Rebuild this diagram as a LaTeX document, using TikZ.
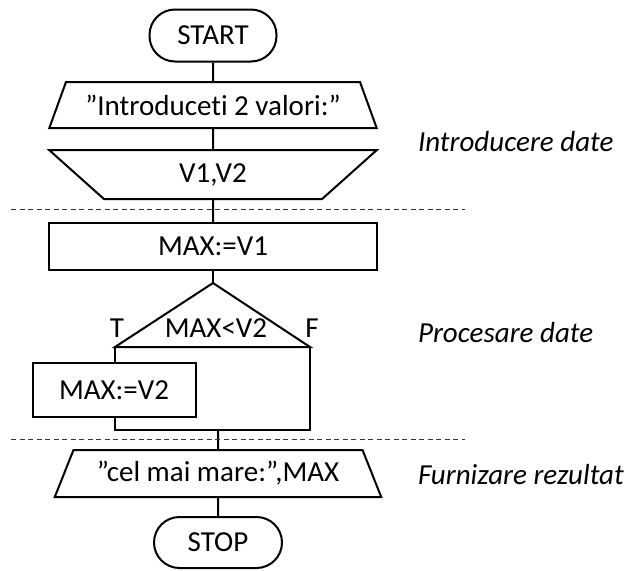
\documentclass[tikz,border=0pt]{standalone}
\usepackage{fontspec}
\setmainfont[Ligatures={NoCommon}]{Carlito}
\usetikzlibrary{shapes.geometric}
\begin{document}
\begin{tikzpicture}[x=1pt, y=-1pt, line width=2pt,
  every node/.style={font=\fontsize{29}{35}\selectfont, inner sep=0pt},
  term/.style={draw, rounded corners=25.5pt, minimum width=127pt, minimum height=52pt},
  iobox/.style={draw, trapezium, trapezium stretches=true, minimum width=328pt},
  procbox/.style={draw, rectangle},
  note/.style={font=\fontsize{29}{35}\selectfont\itshape, anchor=west},
  sep/.style={line width=1pt, black!80, dash pattern=on 5pt off 3.5pt}]
\useasboundingbox (0,0) rectangle (631,570);

% blocks
\node[term] (start) at (213,35.5) {START};
\node[iobox, minimum height=46pt, trapezium angle=55] (in1) at (213,105) {"Introduceti 2 valori:"};
\node[iobox, minimum height=49pt, trapezium angle=53, shape border rotate=180] (in2) at (213,174.5) {V1,V2};
\node[procbox, minimum width=328pt, minimum height=47pt] (max1) at (213,246.5) {MAX:=V1};

% decision triangle
\coordinate (apex) at (213,283);
\coordinate (bl) at (115,347);
\coordinate (br) at (310,347);
\draw[line join=miter] (apex) -- (bl) -- (br) -- cycle;
\node (cond) at (216,328) {MAX<V2};
\node (tlab) at (117,328) {T};
\node (flab) at (312,328) {F};

\node[procbox, minimum width=163pt, minimum height=54pt] (max2) at (114,390) {MAX:=V2};
\coordinate (jl) at (115,430);
\coordinate (jr) at (310,430);
\coordinate (jm) at (218,430);

\node[iobox, minimum width=327pt, minimum height=47pt, trapezium angle=57] (out) at (218,473.5) {"cel mai mare:",MAX};
\node[term, minimum width=128pt, minimum height=51pt] (stop) at (218,542.5) {STOP};

% connectors
\draw (start) -- (in1);
\draw (in1) -- (in2);
\draw (in2) -- (max1);
\draw (max1) -- (apex);
\draw (bl) -- (bl |- max2.north);
\draw (bl |- max2.south) -- (jl) -- (jr) -- (br);
\draw (jm) -- (out);
\draw (out) -- (stop);

% section separators
\draw[sep] (11,209) -- (465,209);
\draw[sep] (11,439) -- (465,439);

% section labels
\node[note] (l1) at (417,142) {Introducere date};
\node[note] (l2) at (417,333) {Procesare date};
\node[note] (l3) at (417,475) {Furnizare rezultat};
\end{tikzpicture}
\end{document}
